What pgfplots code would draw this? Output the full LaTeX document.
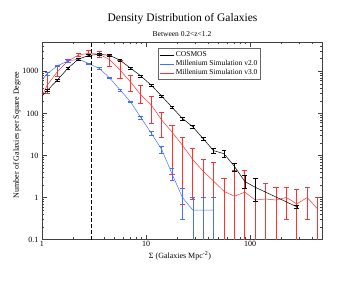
\documentclass[border=0pt]{standalone}
\usepackage{fontspec}
\setmainfont{Liberation Serif}
\usepackage{pgfplots}
\pgfplotsset{compat=1.18}
\usepackage{pgfplotstable}
\definecolor{myblue}{RGB}{70,110,255}
\definecolor{myred}{RGB}{255,50,50}

\pgfplotstableread{
x y ep em
0.891 190 10 10
1.122 350 20 20
1.413 630 35 35
1.778 1200 60 60
2.239 1950 90 90
2.818 2400 110 110
3.548 2550 120 120
4.467 2400 110 110
5.623 1850 90 90
7.079 1200 60 60
8.913 780 40 40
11.22 470 25 25
14.13 260 15 15
17.78 140 9 9
22.39 76 6 6
28.18 48 4 4
35.48 25 2.5 2.5
44.67 13 2 2
56.23 11 2 2
70.79 5.5 1.2 1.2
89.13 2.4 0.9 0.7
112.2 1.75 1.05 0.95
281.8 0.6 0.05 0.05
}\cosmos

\pgfplotstableread{
x y ep em
0.891 450 30 30
1.122 880 80 80
1.413 1370 60 60
1.778 1760 70 70
2.239 1960 70 70
2.818 1530 60 60
3.548 1180 45 45
4.467 700 30 30
5.623 364 18 18
7.079 190 10 10
8.913 80 6 6
11.22 34 4 4
14.13 14 3 3
17.78 3.66 1.24 1.16
22.39 1.0 0.63 0.69
28.18 0.5 0.5 0.49
35.48 0.5 0.5 0.49
44.67 0.5 0.5 0.49
}\simtwo

\pgfplotstableread{
x y ep em
0.891 150 20 20
1.122 470 330 170
1.413 1000 350 250
1.778 1760 150 150
2.239 2450 200 200
2.818 2700 550 450
3.548 2550 450 400
4.467 1900 550 550
5.623 1080 790 400
7.079 566 254 239
8.913 276 194 106
11.22 159 91 102
14.13 70 35 43
17.78 36 17 32.4
22.39 17.5 10 16.8
28.18 8 7 7.1
35.48 4.2 3.8 4.19
44.67 2.45 4.55 2.44
56.23 1.4 1.4 1.39
70.79 1.07 3.43 1.06
89.13 1.34 3.16 1.33
112.2 0.87 1.93 0.86
141.3 0.92 1.28 0.91
177.8 0.87 0.83 0.86
223.9 1.0 0.75 0.7
281.8 0.70 0.9 0.69
354.8 1.0 0.75 0.7
446.7 0.53 0.47 0.52
}\simthree

\begin{document}
\begin{tikzpicture}
\path[use as bounding box] (-42pt,-41.5pt) rectangle (321pt,239.5pt);
\begin{axis}[
  at={(0pt,0pt)}, anchor=south west,
  scale only axis, width=280.7pt, height=197.5pt,
  xmode=log, ymode=log,
  xmin=1, xmax=500, ymin=0.1, ymax=5000,
  xtick={1,10,100}, xticklabels={1,10,100},
  ytick={0.1,1,10,100,1000}, yticklabels={0.1,1,10,100,1000},
  minor xtick={2,3,4,5,6,7,8,9,20,30,40,50,60,70,80,90,200,300,400},
  minor ytick={0.2,0.3,0.4,0.5,0.6,0.7,0.8,0.9,2,3,4,5,6,7,8,9,20,30,40,50,60,70,80,90,200,300,400,500,600,700,800,900,2000,3000,4000},
  tick align=inside,
  major tick length=5pt, minor tick length=2.5pt,
  tick style={line width=0.5pt, black!75},
  axis line style={line width=0.6pt, black!75},
  ticklabel style={font=\fontsize{8}{8}\selectfont},
  xticklabel style={inner sep=1.5pt},
  legend style={at={(0.414,0.968)}, anchor=north west, draw=black!60, line width=0.4pt,
    font=\fontsize{7.5}{8}\selectfont, inner sep=1pt, row sep=-1.5pt,
    cells={anchor=west}},
  legend image code/.code={\draw[#1] (0pt,0pt) -- (14pt,0pt);},
]
\addlegendimage{black, line width=0.5pt}
\addlegendentry{COSMOS}
\addlegendimage{myblue, line width=0.5pt}
\addlegendentry{Millenium Simulation v2.0}
\addlegendimage{myred, line width=0.5pt}
\addlegendentry{Millenium Simulation v3.0}

\addplot[myred, line width=0.5pt, mark=none, forget plot,
  error bars/.cd, y dir=both, y explicit,
  error bar style={line width=0.7pt, myred},
  error mark options={rotate=90, mark size=2.6pt, line width=0.6pt, myred}]
  table[x=x, y=y, y error plus=ep, y error minus=em] {\simthree};

\addplot[myblue, line width=0.5pt, mark=none, forget plot,
  error bars/.cd, y dir=both, y explicit,
  error bar style={line width=0.5pt, myblue},
  error mark options={rotate=90, mark size=2.4pt, line width=0.5pt, myblue}]
  table[x=x, y=y, y error plus=ep, y error minus=em] {\simtwo};

\addplot[black, line width=0.5pt, mark=none, forget plot,
  error bars/.cd, y dir=both, y explicit,
  error bar style={line width=0.5pt, black},
  error mark options={rotate=90, mark size=2.4pt, line width=0.5pt, black}]
  table[x=x, y=y, y error plus=ep, y error minus=em] {\cosmos};

\addplot[black, line width=1pt, dash pattern=on 4pt off 2pt, forget plot]
  coordinates {(3,0.1) (3,5000)};
\end{axis}
\node[font=\fontsize{11.5}{13}\selectfont] at (140.5pt,220.5pt) {Density Distribution of Galaxies};
\node[font=\fontsize{7.5}{8}\selectfont] at (140pt,205.5pt) {Between 0.2<z<1.2};
\node[font=\fontsize{8}{9}\selectfont] at (138pt,-16.5pt) {Σ (Galaxies Mpc\textsuperscript{-2})};
\node[rotate=90, font=\fontsize{8}{9}\selectfont] at (-25pt,104.5pt) {Number of Galaxies per Square Degree};
\end{tikzpicture}
\end{document}
